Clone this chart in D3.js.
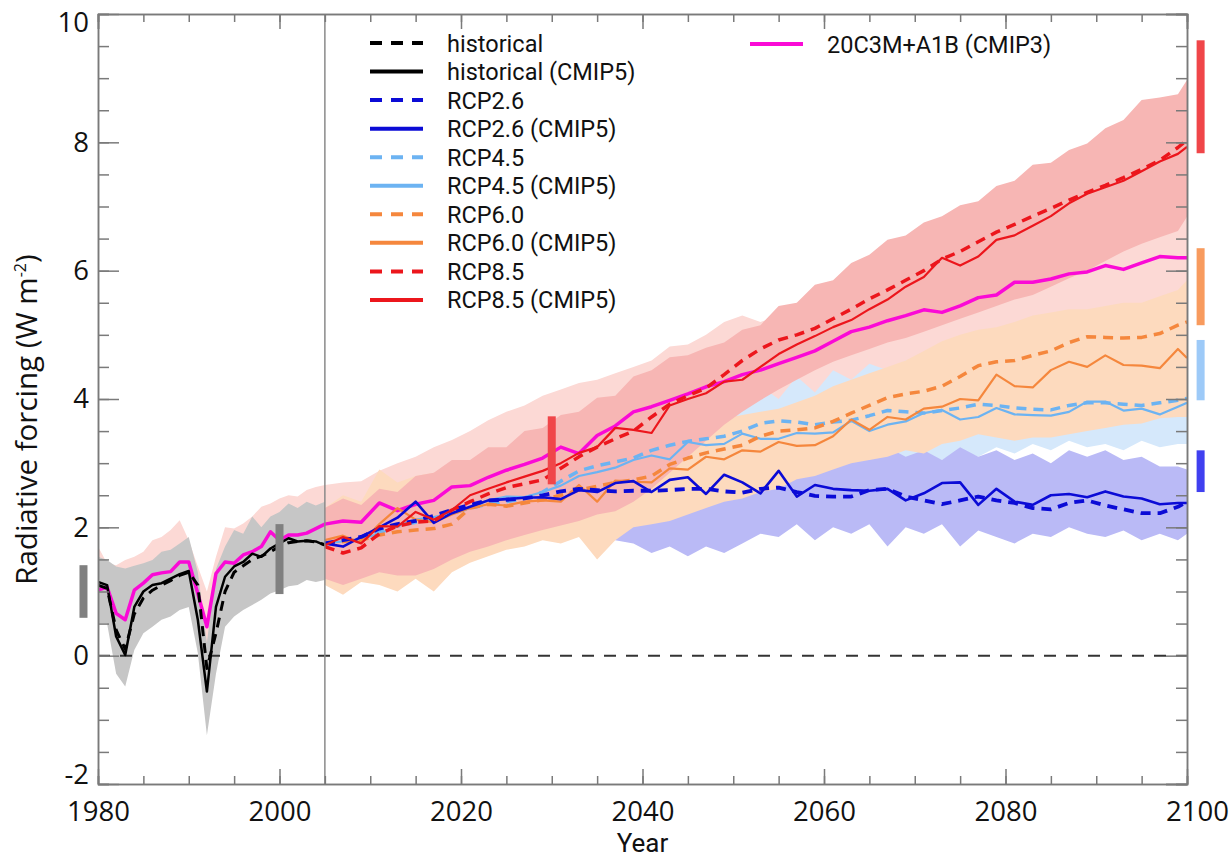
<!DOCTYPE html>
<html>
<head>
<meta charset="utf-8">
<script src="https://cdnjs.cloudflare.com/ajax/libs/d3/7.8.5/d3.min.js"></script>
<style>
  body { margin: 0; background: #fff; }
  #chart svg { display: block; font-family: "Open Sans", sans-serif; }
  .axis path, .axis line { stroke: #7a7a7a; stroke-width: 1.5; }
  .axis text { fill: #111; font-size: 27.5px; font-family: "Open Sans", sans-serif; }
</style>
</head>
<body>
<div id="chart"></div>
<script>
// ---- values ----
const histYears = d3.range(1980, 2006);                         // 1980..2005, yearly
const futureYears = d3.range(2005, 2100, 2).concat([2100]);     // 2005..2099 every 2nd year, + 2100

const historical      = [1.10,1.05,0.40,0.10,0.65,0.90,1.02,1.10,1.17,1.25,1.30,1.10,-0.20,0.35,1.00,1.30,1.40,1.50,1.55,1.62,1.70,1.76,1.78,1.79,1.77,1.73];
const historicalCmip5 = [1.15,1.10,0.30,0.01,0.76,1.00,1.10,1.13,1.20,1.27,1.32,0.56,-0.56,0.76,1.23,1.39,1.46,1.59,1.54,1.67,1.75,1.83,1.78,1.79,1.78,1.72];
const cmip3Hist       = [1.02,1.07,0.66,0.56,1.02,1.13,1.26,1.29,1.31,1.46,1.46,0.97,0.45,1.28,1.46,1.44,1.57,1.62,1.70,1.93,1.80,1.88,1.88,1.91,1.98,2.05];

const histBandUpper   = [1.54,1.49,1.39,1.36,1.40,1.44,1.49,1.62,1.65,1.75,1.85,1.30,0.20,1.35,1.70,1.96,1.90,2.17,2.00,2.17,2.24,2.37,2.30,2.40,2.34,2.40];
const histBandLower   = [0.50,0.50,-0.28,-0.48,0.09,0.35,0.45,0.56,0.61,0.71,0.76,0.04,-1.24,-0.28,0.45,0.61,0.71,0.79,0.87,0.97,1.02,1.08,1.10,1.18,1.15,1.18];
const cmip3HistUpper  = [1.70,1.44,1.41,1.49,1.54,1.62,1.80,1.85,1.96,2.11,1.80,1.39,1.00,1.54,2.00,1.98,2.06,2.17,2.32,2.37,2.45,2.50,2.48,2.58,2.63,2.66];
const cmip3HistLower  = [0.80,0.80,0.10,-0.10,0.40,0.60,0.70,0.80,0.85,0.90,0.95,0.30,-0.90,0.10,0.70,0.85,0.95,1.00,1.05,1.10,1.15,1.20,1.25,1.30,1.30,1.30];

const cmip3Future = [2.05,2.10,2.08,2.38,2.26,2.36,2.42,2.63,2.65,2.78, 2.89,2.98,3.08,3.25,3.15,3.43,3.58,3.80,3.88,3.98, 4.08,4.19,4.27,4.38,4.45,4.55,4.65,4.75,4.90,5.05, 5.12,5.22,5.30,5.39,5.35,5.45,5.58,5.62,5.82,5.82, 5.87,5.95,5.98,6.08,6.02,6.12,6.22,6.20,6.20];
const rcp26 =       [1.75,1.80,1.85,1.98,2.05,2.10,2.18,2.27,2.35,2.42, 2.43,2.45,2.50,2.56,2.60,2.58,2.56,2.57,2.57,2.58, 2.60,2.60,2.56,2.54,2.60,2.62,2.55,2.49,2.48,2.48, 2.58,2.60,2.48,2.42,2.36,2.42,2.48,2.42,2.38,2.30, 2.28,2.38,2.42,2.34,2.28,2.22,2.22,2.32,2.40];
const rcp26Cmip5 =  [1.75,1.70,1.85,2.00,2.15,2.40,2.07,2.22,2.32,2.42, 2.44,2.46,2.47,2.44,2.58,2.55,2.69,2.72,2.55,2.74, 2.78,2.52,2.82,2.70,2.53,2.88,2.48,2.66,2.60,2.58, 2.57,2.60,2.42,2.53,2.69,2.70,2.35,2.60,2.40,2.35, 2.50,2.52,2.47,2.56,2.48,2.45,2.36,2.38,2.38];
const rcp45 =       [1.75,1.78,1.82,1.95,2.02,2.08,2.15,2.22,2.30,2.36, 2.40,2.45,2.55,2.72,2.88,2.96,3.02,3.08,3.20,3.28, 3.34,3.38,3.42,3.50,3.62,3.66,3.64,3.60,3.64,3.67, 3.74,3.82,3.80,3.78,3.82,3.86,3.92,3.90,3.86,3.84, 3.83,3.90,3.94,3.94,3.92,3.90,3.94,3.98,4.01];
const rcp45Cmip5 =  [1.75,1.78,1.82,1.90,2.02,2.12,2.16,2.22,2.30,2.42, 2.48,2.47,2.55,2.65,2.80,2.86,2.93,3.05,3.12,3.06, 3.33,3.28,3.30,3.46,3.38,3.38,3.47,3.46,3.48,3.66, 3.50,3.60,3.65,3.78,3.83,3.68,3.72,3.86,3.76,3.75, 3.74,3.80,3.96,3.96,3.82,3.85,3.76,3.88,3.94];
const rcp60 =       [1.75,1.78,1.80,1.88,1.93,1.96,1.98,2.05,2.30,2.36, 2.33,2.38,2.43,2.50,2.58,2.64,2.70,2.74,2.80,2.98, 3.08,3.16,3.22,3.28,3.42,3.50,3.52,3.55,3.65,3.78, 3.90,4.02,4.08,4.12,4.20,4.35,4.52,4.58,4.60,4.68, 4.75,4.88,4.97,4.96,4.95,4.96,5.02,5.15,5.20];
const rcp60Cmip5 =  [1.80,1.87,1.76,2.05,2.30,2.12,2.08,2.20,2.30,2.36, 2.34,2.40,2.42,2.40,2.66,2.40,2.73,2.71,2.70,2.92, 2.90,3.10,3.06,3.20,3.18,3.33,3.27,3.28,3.42,3.68, 3.52,3.72,3.68,3.85,3.88,4.00,3.98,4.38,4.20,4.18, 4.45,4.58,4.50,4.68,4.53,4.52,4.48,4.78,4.64];
const rcp85 =       [1.70,1.60,1.68,1.90,2.02,2.08,2.10,2.27,2.40,2.52, 2.62,2.68,2.74,2.92,3.10,3.25,3.38,3.50,3.72,3.92, 4.05,4.17,4.38,4.60,4.78,4.92,5.00,5.10,5.25,5.40, 5.56,5.70,5.85,6.00,6.18,6.30,6.45,6.60,6.72,6.85, 6.97,7.10,7.22,7.33,7.45,7.58,7.72,7.92,8.04];
const rcp85Cmip5 =  [1.72,1.85,1.75,2.02,2.01,2.24,2.12,2.27,2.50,2.60, 2.70,2.79,2.88,3.00,3.16,3.25,3.55,3.52,3.47,3.90, 4.00,4.09,4.27,4.30,4.50,4.70,4.85,4.98,5.12,5.23, 5.40,5.55,5.75,5.90,6.20,6.08,6.22,6.48,6.55,6.70, 6.85,7.05,7.20,7.30,7.40,7.55,7.70,7.82,7.93];

// model ranges (future)
const cmip3FutUpper = [2.66,2.70,2.72,2.88,3.00,3.10,3.25,3.36,3.50,3.67, 3.80,3.90,4.05,4.15,4.25,4.30,4.40,4.50,4.60,4.82, 4.85,5.00,5.20,5.30,5.20,5.30,5.40,5.60,5.70,5.90, 6.05,6.20,6.30,6.45,6.60,6.70,6.85,6.95,7.05,7.15, 7.25,7.35,7.45,7.55,7.60,7.65,7.70,7.75,7.80];
const cmip3FutLower = [1.30,1.35,1.40,1.45,1.50,1.55,1.60,1.65,1.70,1.80, 1.90,2.00,2.05,2.10,2.20,2.25,2.30,2.40,2.50,2.60, 2.70,2.80,2.90,3.00,3.10,3.20,3.30,3.40,3.50,3.60, 3.70,3.80,3.90,4.00,4.10,4.20,4.30,4.40,4.50,4.55, 4.60,4.65,4.70,4.75,4.80,4.85,4.90,4.95,5.00];
const rcp26Upper = [2.10,2.10,2.20,2.25,2.30,2.35,2.40,2.45,2.50,2.55, 2.60,2.65,2.70,2.75,2.80,2.85,2.90,2.90,2.95,3.00, 3.00,3.05,3.10,3.10,2.95,3.15,3.00,3.20,3.00,3.15, 3.05,3.25,3.10,3.20,3.05,3.25,3.10,3.20,3.05,3.15, 3.00,3.20,3.10,3.20,3.05,3.10,2.95,2.95,2.90];
const rcp26Lower = [1.70,1.70,1.75,1.75,1.80,1.80,1.85,1.85,1.85,1.90, 1.90,1.90,1.95,1.95,1.95,1.90,1.80,1.75,1.60,1.70, 1.55,1.70,1.60,1.75,1.90,1.85,2.05,1.80,2.00,1.90, 2.05,1.70,2.00,1.90,2.05,1.70,1.95,1.85,1.75,1.90, 1.85,2.00,1.90,1.85,1.95,1.80,1.90,1.80,1.90];
const rcp45Upper = [2.20,2.30,2.35,2.45,2.55,2.60,2.70,2.80,2.90,2.95, 3.00,3.10,3.20,3.30,3.35,3.40,3.50,3.60,3.70,3.80, 3.95,3.80,4.05,3.90,4.20,4.00,4.35,4.10,4.45,4.30, 4.55,4.45,4.60,4.60,4.65,4.70,4.75,4.80,4.80,4.85, 4.85,4.90,4.90,4.90,4.95,4.95,5.00,5.00,5.00];
const rcp45Lower = [1.40,1.45,1.50,1.55,1.60,1.65,1.70,1.75,1.80,1.85, 1.90,1.95,2.00,2.05,2.10,2.15,2.20,2.25,2.30,2.35, 2.40,2.45,2.50,2.55,2.60,2.65,2.70,2.80,2.85,2.95, 3.00,2.95,3.05,3.10,3.05,3.20,3.10,3.25,3.15,3.30, 3.20,3.35,3.25,3.30,3.20,3.35,3.25,3.30,3.30];
const rcp60Upper = [2.30,2.50,2.40,2.90,2.70,2.80,2.85,2.90,3.00,3.05, 3.10,3.20,3.25,3.30,3.35,3.50,3.55,3.55,3.55,3.58, 3.60,3.65,3.70,3.75,3.80,3.85,3.95,4.05,4.20,4.30, 4.40,4.50,4.60,4.75,4.90,5.00,5.08,5.12,5.20,5.30, 5.35,5.40,5.40,5.45,5.50,5.50,5.60,5.70,5.85];
const rcp60Lower = [1.10,0.95,1.15,1.10,1.00,1.20,1.00,1.30,1.45,1.55, 1.65,1.70,1.80,1.75,1.85,1.50,1.80,2.00,2.05,2.10, 2.20,2.30,2.40,2.45,2.55,2.60,2.75,2.80,2.90,3.00, 3.05,3.10,3.20,3.15,3.30,3.35,3.45,3.40,3.35,3.40, 3.40,3.45,3.50,3.55,3.60,3.62,3.70,3.72,3.72];
const rcp85Upper = [2.30,2.45,2.35,2.60,2.55,2.80,2.85,3.05,3.05,3.25, 3.25,3.50,3.55,3.75,3.80,4.02,4.05,4.35,4.45,4.65, 4.68,4.80,4.88,5.08,5.15,5.45,5.50,5.78,5.85,6.12, 6.25,6.48,6.55,6.75,6.85,7.02,7.08,7.32,7.40,7.65, 7.68,7.88,7.98,8.22,8.35,8.66,8.70,8.75,8.97];
const rcp85Lower = [1.20,1.10,1.20,1.30,1.25,1.25,1.35,1.50,1.62,1.70, 1.80,1.88,1.96,2.03,2.10,2.20,2.25,2.40,2.60,2.85, 3.10,3.35,3.60,3.80,3.98,4.15,4.30,4.45,4.58,4.68, 4.78,4.88,4.95,5.05,5.15,5.25,5.35,5.45,5.55,5.62, 5.75,5.88,6.00,6.15,6.30,6.42,6.52,6.62,6.84];

// range bars beside / inside the plot
const barYears = [1978.4, 2000, 2030, 2101.5, 2101.5, 2101.5, 2101.5];
const barLo    = [0.59, 0.96, 2.67, 7.83, 5.15, 3.98, 2.55];
const barHi    = [1.41, 2.05, 3.73, 9.59, 6.35, 4.92, 3.20];
const barKeys  = ["hist", "hist", "rcp85", "rcp85", "rcp60", "rcp45", "rcp26"];

// legend order as printed in the figure
const legendLeftLabels = ["historical", "historical (CMIP5)", "RCP2.6", "RCP2.6 (CMIP5)", "RCP4.5", "RCP4.5 (CMIP5)",
                          "RCP6.0", "RCP6.0 (CMIP5)", "RCP8.5", "RCP8.5 (CMIP5)"];
const legendRightLabels = ["20C3M+A1B (CMIP3)"];

// ---- styles ----
const colors = {
  hist: "#000000", rcp26: "#0b0bd6", rcp45: "#6cb3f2", rcp60: "#f5873d", rcp85: "#ec161c", cmip3: "#fa0ad6"
};
const bandColors = {
  cmip3: "#fcd9d5", hist: "#c6c6c6", rcp45: "#d5e8fb", rcp26: "#babaf6", rcp60: "#fddabe", rcp85: "#f7b6b4"
};
const barColors = { hist: "#808080", rcp85: "#f04649", rcp60: "#f89b5e", rcp45: "#9dcaf8", rcp26: "#4040f0" };

// ---- chart ----
const W = 1229, H = 859;
const margin = { top: 14, right: 42, bottom: 75, left: 98 };
const width = W - margin.left - margin.right;
const height = H - margin.top - margin.bottom;

const svg = d3.select("#chart").append("svg")
    .attr("width", W).attr("height", H);
const g = svg.append("g").attr("transform", `translate(${margin.left},${margin.top})`);

const x = d3.scaleLinear().domain([1980, 2100]).range([0, width]);
const y = d3.scaleLinear().domain([-2, 10]).range([height, 0]);

g.append("clipPath").attr("id", "plot-clip")
  .append("rect").attr("width", width).attr("height", height);
const plot = g.append("g").attr("clip-path", "url(#plot-clip)");

const zip = (years, vals) => years.map((yr, i) => ({ year: yr, v: vals[i] }));
const zipBand = (years, lo, hi) => years.map((yr, i) => ({ year: yr, lo: lo[i], hi: hi[i] }));

const area = d3.area().x(d => x(d.year)).y0(d => y(d.lo)).y1(d => y(d.hi));
const line = d3.line().x(d => x(d.year)).y(d => y(d.v));

const futTail = futureYears.slice(1);

// bands, back to front
const bands = [
  { key: "cmip3", data: zipBand(histYears.concat(futTail), cmip3HistLower.concat(cmip3FutLower.slice(1)), cmip3HistUpper.concat(cmip3FutUpper.slice(1))) },
  { key: "hist",  data: zipBand(histYears, histBandLower, histBandUpper) },
  { key: "rcp45", data: zipBand(futureYears, rcp45Lower, rcp45Upper) },
  { key: "rcp26", data: zipBand(futureYears, rcp26Lower, rcp26Upper) },
  { key: "rcp60", data: zipBand(futureYears, rcp60Lower, rcp60Upper) },
  { key: "rcp85", data: zipBand(futureYears, rcp85Lower, rcp85Upper) }
];
plot.selectAll("path.band").data(bands).enter().append("path")
  .attr("class", "band")
  .attr("d", d => area(d.data))
  .attr("fill", d => bandColors[d.key])
  .attr("stroke", "none");

// zero line and 2005 divider
plot.append("line")
  .attr("x1", 0).attr("x2", width).attr("y1", y(0)).attr("y2", y(0))
  .attr("stroke", "#333").attr("stroke-width", 2).attr("stroke-dasharray", "12,10");
g.append("line")
  .attr("x1", x(2005)).attr("x2", x(2005)).attr("y1", 0).attr("y2", height)
  .attr("stroke", "#8a8a8a").attr("stroke-width", 1.5);

// lines
const series = [
  { key: "cmip3", label: "20C3M+A1B (CMIP3)", data: zip(histYears.concat(futTail), cmip3Hist.concat(cmip3Future.slice(1))), dashed: false, w: 3.5 },
  { key: "rcp45", label: "RCP4.5", data: zip(futureYears, rcp45), dashed: true, w: 3.5 },
  { key: "rcp45", label: "RCP4.5 (CMIP5)", data: zip(futureYears, rcp45Cmip5), dashed: false, w: 2.2 },
  { key: "rcp60", label: "RCP6.0", data: zip(futureYears, rcp60), dashed: true, w: 3.5 },
  { key: "rcp60", label: "RCP6.0 (CMIP5)", data: zip(futureYears, rcp60Cmip5), dashed: false, w: 2.2 },
  { key: "rcp26", label: "RCP2.6", data: zip(futureYears, rcp26), dashed: true, w: 3.8 },
  { key: "rcp26", label: "RCP2.6 (CMIP5)", data: zip(futureYears, rcp26Cmip5), dashed: false, w: 2.6 },
  { key: "rcp85", label: "RCP8.5", data: zip(futureYears, rcp85), dashed: true, w: 3.5 },
  { key: "rcp85", label: "RCP8.5 (CMIP5)", data: zip(futureYears, rcp85Cmip5), dashed: false, w: 2.2 },
  { key: "hist", label: "historical", data: zip(histYears, historical), dashed: true, w: 3 },
  { key: "hist", label: "historical (CMIP5)", data: zip(histYears, historicalCmip5), dashed: false, w: 2.5 }
];
plot.selectAll("path.series").data(series).enter().append("path")
  .attr("class", "series")
  .attr("d", d => line(d.data))
  .attr("fill", "none")
  .attr("stroke", d => colors[d.key])
  .attr("stroke-width", d => d.w)
  .attr("stroke-linejoin", "round")
  .attr("stroke-dasharray", d => d.dashed ? "10,7" : null);

// range bars
g.selectAll("rect.rangebar").data(barYears).enter().append("rect")
  .attr("class", "rangebar")
  .attr("x", d => x(d) - 4)
  .attr("width", 8)
  .attr("y", (d, i) => y(barHi[i]))
  .attr("height", (d, i) => y(barLo[i]) - y(barHi[i]))
  .attr("fill", (d, i) => barColors[barKeys[i]]);

// axes: inward ticks on all four sides
const xMajor = d3.range(1980, 2101, 20), xMinor = d3.range(1980, 2101, 5);
const yMajor = d3.range(-2, 10.01, 2), yMinor = d3.range(-2, 10.01, 0.5);

g.append("g").attr("class", "axis").attr("transform", `translate(0,${height})`)
  .call(d3.axisBottom(x).tickValues(xMinor).tickSize(-8).tickFormat(""));
const xAxisG = g.append("g").attr("class", "axis").attr("transform", `translate(0,${height})`)
  .call(d3.axisBottom(x).tickValues(xMajor).tickSizeInner(-15).tickSizeOuter(0).tickPadding(17).tickFormat(d3.format("d")));
// the last year label sits a little to the right, as in the original
xAxisG.selectAll(".tick text").attr("dx", d => d === 2100 ? 10 : 0);

g.append("g").attr("class", "axis")
  .call(d3.axisTop(x).tickValues(xMinor).tickSize(-8).tickFormat(""));
g.append("g").attr("class", "axis")
  .call(d3.axisTop(x).tickValues(xMajor).tickSize(-15).tickFormat(""));

g.append("g").attr("class", "axis")
  .call(d3.axisLeft(y).tickValues(yMinor).tickSize(-11).tickFormat(""));
const yAxisG = g.append("g").attr("class", "axis")
  .call(d3.axisLeft(y).tickValues(yMajor).tickSizeInner(-21).tickSizeOuter(0).tickPadding(9).tickFormat(d => String(d)));
// end labels are nudged inside the frame
yAxisG.selectAll(".tick text").attr("transform", d => d === 10 ? "translate(0,9)" : d === -2 ? "translate(0,-9)" : null);

g.append("g").attr("class", "axis").attr("transform", `translate(${width},0)`)
  .call(d3.axisRight(y).tickValues(yMinor).tickSize(-11).tickFormat(""));
g.append("g").attr("class", "axis").attr("transform", `translate(${width},0)`)
  .call(d3.axisRight(y).tickValues(yMajor).tickSize(-21).tickFormat(""));

// axis titles
svg.append("text")
  .attr("x", margin.left + x(2040)).attr("y", 852)
  .attr("text-anchor", "middle").attr("font-size", 26).attr("fill", "#111")
  .attr("font-family", "Roboto, sans-serif")
  .text("Year");

const yTitle = svg.append("text")
  .attr("transform", `translate(37,${margin.top + y(3.68)}) rotate(-90)`)
  .attr("text-anchor", "middle").attr("font-size", 29.5).attr("fill", "#111");
yTitle.append("tspan").text("Radiative forcing (W m");
yTitle.append("tspan").attr("font-size", 16).attr("dy", -11).text("-2");
yTitle.append("tspan").attr("dy", 11).text(")");

// legend
const legend = svg.append("g")
  .attr("font-size", 23.5).attr("fill", "#111").attr("font-family", "Roboto, sans-serif");
const rowH = 28.55;

function legendRow(parent, s, lx, ly) {
  parent.append("line")
    .attr("x1", lx).attr("x2", lx + 53).attr("y1", ly).attr("y2", ly)
    .attr("stroke", colors[s.key]).attr("stroke-width", 4)
    .attr("stroke-dasharray", s.dashed ? "12,9" : null);
  parent.append("text")
    .attr("x", lx + 77).attr("y", ly + 8.5)
    .text(s.label);
}

legendLeftLabels.forEach((lab, i) => {
  const s = series.find(d => d.label === lab);
  legendRow(legend, s, 370, 43 + i * rowH);
});
legendRightLabels.forEach((lab, i) => {
  const s = series.find(d => d.label === lab);
  legendRow(legend, s, 750, 44 + i * rowH);
});
</script>
</body>
</html>
